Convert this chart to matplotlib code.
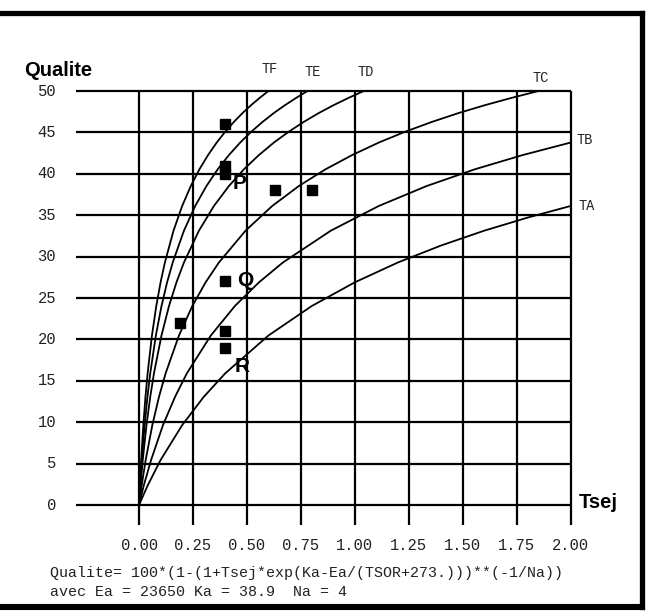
import matplotlib
matplotlib.use("Agg")
import matplotlib.pyplot as plt
from matplotlib.lines import Line2D
from matplotlib.transforms import blended_transform_factory

# ---------------- data ----------------
x_ticks = [0.0, 0.25, 0.5, 0.75, 1.0, 1.25, 1.5, 1.75, 2.0]
x_tick_labels = ["0.00", "0.25", "0.50", "0.75", "1.00", "1.25", "1.50", "1.75", "2.00"]
y_ticks = [0, 5, 10, 15, 20, 25, 30, 35, 40, 45, 50]
y_tick_labels = ["0", "5", "10", "15", "20", "25", "30", "35", "40", "45", "50"]

ta_x = [0, 0.04, 0.1, 0.2, 0.3, 0.4, 0.6, 0.8, 1.0, 1.2, 1.4, 1.6, 1.8, 2.0]
ta_y = [0, 2.35, 5.43, 9.64, 13.06, 15.91, 20.47, 24.02, 26.89, 29.29, 31.34, 33.13, 34.70, 36.11]

tb_x = [0, 0.022, 0.056, 0.111, 0.167, 0.222, 0.333, 0.444, 0.556, 0.667, 0.889, 1.111, 1.333, 1.556, 1.778, 2.0]
tb_y = [0, 2.35, 5.43, 9.64, 13.06, 15.91, 20.47, 24.02, 26.89, 29.29, 33.13, 36.11, 38.52, 40.54, 42.26, 43.77]

tc_x = [0, 0.0123, 0.0309, 0.0617, 0.0926, 0.1235, 0.1852, 0.2469, 0.3086, 0.3704, 0.4938, 0.6173,
        0.7407, 0.8642, 0.9877, 1.1111, 1.2346, 1.358, 1.4815, 1.6049, 1.7284, 1.8519]
tc_y = [0, 2.35, 5.43, 9.64, 13.06, 15.91, 20.47, 24.02, 26.89, 29.29, 33.13, 36.11,
        38.52, 40.54, 42.26, 43.77, 45.09, 46.27, 47.34, 48.30, 49.18, 50.0]

td_x = [0, 0.0069, 0.0174, 0.0347, 0.0521, 0.0694, 0.1042, 0.1389, 0.1736, 0.2083, 0.2778, 0.3472,
        0.4167, 0.4861, 0.5556, 0.625, 0.6944, 0.7639, 0.8333, 0.9028, 0.9722, 1.0417]
td_y = [0, 2.35, 5.43, 9.64, 13.06, 15.91, 20.47, 24.02, 26.89, 29.29, 33.13, 36.11,
        38.52, 40.54, 42.26, 43.77, 45.09, 46.27, 47.34, 48.30, 49.18, 50.0]

te_x = [0, 0.0052, 0.013, 0.026, 0.0391, 0.0521, 0.0781, 0.1042, 0.1302, 0.1563, 0.2083, 0.2604,
        0.3125, 0.3646, 0.4167, 0.4688, 0.5208, 0.5729, 0.625, 0.6771, 0.7292, 0.7813]
te_y = [0, 2.35, 5.43, 9.64, 13.06, 15.91, 20.47, 24.02, 26.89, 29.29, 33.13, 36.11,
        38.52, 40.54, 42.26, 43.77, 45.09, 46.27, 47.34, 48.30, 49.18, 50.0]

tf_x = [0, 0.004, 0.01, 0.02, 0.03, 0.04, 0.06, 0.08, 0.1, 0.12, 0.16, 0.2,
        0.24, 0.28, 0.32, 0.36, 0.4, 0.44, 0.48, 0.52, 0.56, 0.6]
tf_y = [0, 2.35, 5.43, 9.64, 13.06, 15.91, 20.47, 24.02, 26.89, 29.29, 33.13, 36.11,
        38.52, 40.54, 42.26, 43.77, 45.09, 46.27, 47.34, 48.30, 49.18, 50.0]

points_x = [0.4, 0.4, 0.4, 0.63, 0.8, 0.19, 0.4, 0.4, 0.4]
points_y = [46, 41, 40, 38, 38, 22, 27, 21, 19]

# ---------------- figure ----------------
W, H = 646, 611
fig = plt.figure(figsize=(W / 100, H / 100), dpi=100)
fig.patch.set_facecolor("white")

def fx(px):
    return px / W

def fy(py):
    return 1 - py / H

x0_px, x2_px = 139.0, 570.5
y0_px, y50_px = 505.0, 91.0
ax = fig.add_axes([fx(x0_px), fy(y0_px), (x2_px - x0_px) / W, (y0_px - y50_px) / H])
ax.set_xlim(0, 2.0)
ax.set_ylim(0, 50)
ax.axis("off")

px_per_x = (x2_px - x0_px) / 2.0
px_per_y = (y0_px - y50_px) / 50.0

grid_lw = 1.6
h_left = (76 - x0_px) / px_per_x
v_bottom = (y0_px - 525) / px_per_y
for yv in y_ticks:
    ax.plot([h_left, 2.0], [yv, yv], color="black", lw=grid_lw, clip_on=False, solid_capstyle="butt")
for xv in x_ticks:
    ax.plot([xv, xv], [v_bottom, 50], color="black", lw=grid_lw, clip_on=False, solid_capstyle="butt")

curve_lw = 1.3
for cx, cy in [(ta_x, ta_y), (tb_x, tb_y), (tc_x, tc_y), (td_x, td_y), (te_x, te_y), (tf_x, tf_y)]:
    ax.plot(cx, cy, color="black", lw=curve_lw, clip_on=True)

ax.plot(points_x, points_y, linestyle="none", marker="s", markersize=7.5,
        color="black", clip_on=False)

mono = ["Liberation Mono", "DejaVu Sans Mono"]
bold_sans = ["Liberation Sans Narrow", "Liberation Sans", "DejaVu Sans"]

# tick labels
for xv, lab in zip(x_ticks, x_tick_labels):
    ax.text(xv, (y0_px - 545) / px_per_y, lab, ha="center", va="center",
            family=mono, fontsize=11.2, color="#222222")
for yv, lab in zip(y_ticks, y_tick_labels):
    ax.text((56 - x0_px) / px_per_x, yv, lab, ha="right", va="center",
            family=mono, fontsize=11.2, color="#222222")

# axis titles
fig.text(fx(24), fy(70), "Qualite", ha="left", va="center", family=bold_sans,
         fontweight="bold", fontsize=14.5)
fig.text(fx(579), fy(502), "Tsej", ha="left", va="center", family=bold_sans,
         fontweight="bold", fontsize=14.5)

# curve labels
for lab, px, py in [("TF", 270, 69), ("TE", 313, 72), ("TD", 366, 72),
                    ("TC", 541, 78), ("TB", 585, 140), ("TA", 587, 206)]:
    fig.text(fx(px), fy(py), lab, ha="center", va="center", family=mono,
             fontsize=9.8, color="#222222")

# point labels
for lab, px, py in [("P", 240, 183), ("Q", 245, 280), ("R", 242, 366)]:
    fig.text(fx(px), fy(py), lab, ha="center", va="center", family=bold_sans,
             fontweight="bold", fontsize=15)

# formula
fig.text(fx(50), fy(573), "Qualite= 100*(1-(1+Tsej*exp(Ka-Ea/(TSOR+273.)))**(-1/Na))",
         ha="left", va="center", family=mono, fontsize=10.8, color="#222222")
fig.text(fx(50), fy(592), "avec Ea = 23650 Ka = 38.9  Na = 4",
         ha="left", va="center", family=mono, fontsize=10.8, color="#222222")

# frame
frame_lw = 3.8
fig.add_artist(Line2D([0, fx(641.5)], [fy(13), fy(13)], color="black", lw=frame_lw,
                      solid_capstyle="projecting"))
fig.add_artist(Line2D([fx(641.5), fx(641.5)], [fy(13), fy(606.5)], color="black", lw=frame_lw,
                      solid_capstyle="projecting"))
fig.add_artist(Line2D([0, fx(641.5)], [fy(606.5), fy(606.5)], color="black", lw=frame_lw + 0.6,
                      solid_capstyle="projecting"))

fig.savefig("out.png", dpi=100, facecolor="white")
